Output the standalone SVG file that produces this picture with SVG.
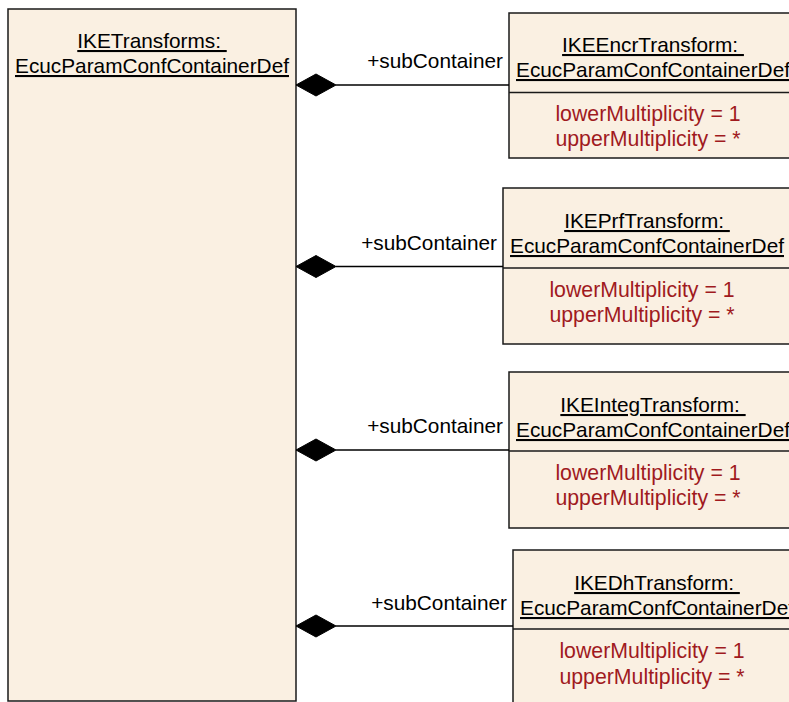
<svg xmlns="http://www.w3.org/2000/svg" width="789" height="702" viewBox="0 0 789 702">
<defs>
<style>
.box{fill:#FAF0E2;stroke:#1a1a1a;stroke-width:1.5}
.div{stroke:#1a1a1a;stroke-width:1.5}
.t{font-family:"Liberation Sans",Arial,sans-serif;font-size:20.8px;fill:#000;text-anchor:middle}
.u{text-decoration:underline}
.a{font-family:"Liberation Sans",Arial,sans-serif;font-size:21.3px;fill:#A01A1E;text-anchor:middle}
.lbl{font-family:"Liberation Sans",Arial,sans-serif;font-size:20.8px;fill:#000;text-anchor:end}
.conn{stroke:#000;stroke-width:1.5;fill:none}
.dia{fill:#000;stroke:#000;stroke-width:1}
</style>
</defs>
<rect width="789" height="702" fill="#fff"/>
<g id="IKETransforms">
<rect class="box" x="8" y="9" width="288" height="692"/>
<text class="t u" x="152" y="48" xml:space="preserve">IKETransforms: </text>
<text class="t u" x="152" y="73">EcucParamConfContainerDef</text>
</g>
<g id="IKEEncrTransform">
<rect class="box" x="509" y="13" width="288" height="145"/>
<line class="div" x1="509" y1="92.5" x2="797" y2="92.5"/>
<text class="t u" x="653" y="52" xml:space="preserve">IKEEncrTransform: </text>
<text class="t u" x="653" y="77">EcucParamConfContainerDef</text>
<text class="a" x="648" y="121">lowerMultiplicity = 1</text>
<text class="a" x="648" y="146">upperMultiplicity = *</text>
</g>
<g id="IKEPrfTransform">
<rect class="box" x="503" y="188" width="288" height="156"/>
<line class="div" x1="503" y1="268" x2="791" y2="268"/>
<text class="t u" x="647" y="228" xml:space="preserve">IKEPrfTransform: </text>
<text class="t u" x="647" y="253">EcucParamConfContainerDef</text>
<text class="a" x="642" y="297">lowerMultiplicity = 1</text>
<text class="a" x="642" y="322">upperMultiplicity = *</text>
</g>
<g id="IKEIntegTransform">
<rect class="box" x="509" y="372" width="288" height="156"/>
<line class="div" x1="509" y1="451" x2="797" y2="451"/>
<text class="t u" x="653" y="412" xml:space="preserve">IKEIntegTransform: </text>
<text class="t u" x="653" y="437">EcucParamConfContainerDef</text>
<text class="a" x="648" y="480">lowerMultiplicity = 1</text>
<text class="a" x="648" y="505">upperMultiplicity = *</text>
</g>
<g id="IKEDhTransform">
<rect class="box" x="513" y="550" width="288" height="170"/>
<line class="div" x1="513" y1="629" x2="801" y2="629"/>
<text class="t u" x="657" y="590" xml:space="preserve">IKEDhTransform: </text>
<text class="t u" x="657" y="615">EcucParamConfContainerDef</text>
<text class="a" x="652" y="658">lowerMultiplicity = 1</text>
<text class="a" x="652" y="684">upperMultiplicity = *</text>
</g>
<g id="connectors">
<line class="conn" x1="336" y1="85" x2="509" y2="85"/>
<polygon class="dia" points="296,85 316,74 336,85 316,96"/>
<text class="lbl" x="503" y="68">+subContainer</text>
<line class="conn" x1="336" y1="266.5" x2="503" y2="266.5"/>
<polygon class="dia" points="296,266.5 316,255.5 336,266.5 316,277.5"/>
<text class="lbl" x="497" y="250">+subContainer</text>
<line class="conn" x1="336" y1="450" x2="509" y2="450"/>
<polygon class="dia" points="296,450 316,439 336,450 316,461"/>
<text class="lbl" x="503" y="433">+subContainer</text>
<line class="conn" x1="336" y1="626" x2="513" y2="626"/>
<polygon class="dia" points="296,626 316,615 336,626 316,637"/>
<text class="lbl" x="507" y="610">+subContainer</text>
</g>
</svg>
